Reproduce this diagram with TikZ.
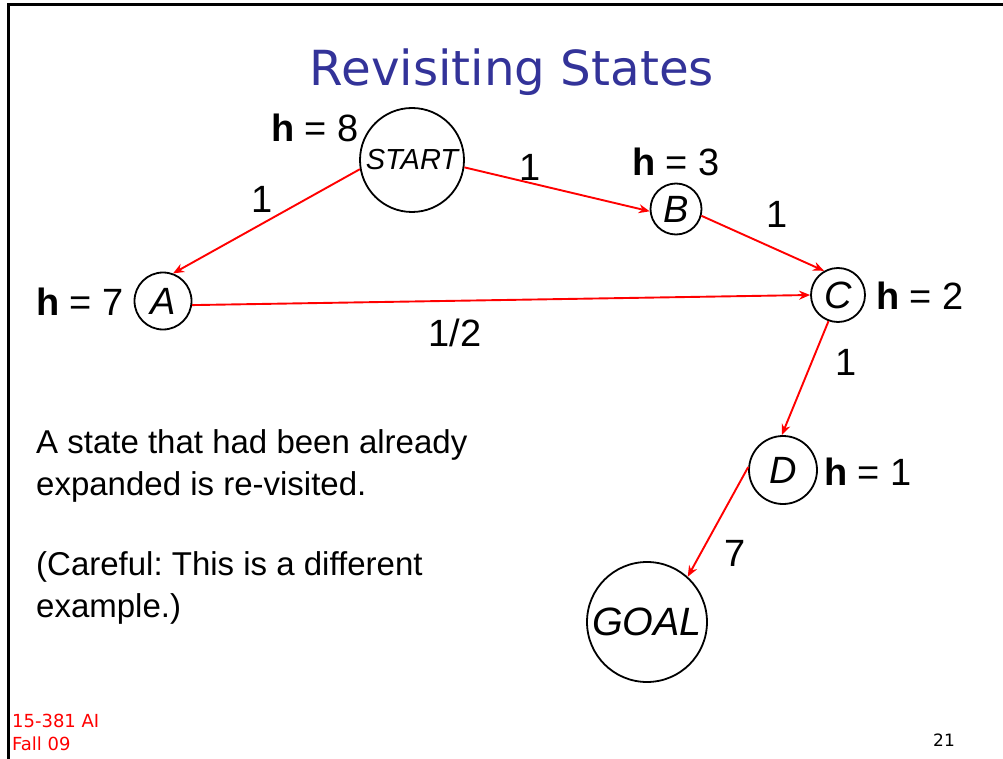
\documentclass[tikz,border=0pt]{standalone}
\usepackage{fontspec}
\setmainfont{Liberation Sans}
\newfontfamily\titlefont{DejaVu Sans}
\usetikzlibrary{arrows.meta}
\frenchspacing
\definecolor{titleblue}{HTML}{333399}
\tikzset{
  state/.style={circle,draw=black,line width=1.8pt,inner sep=0pt,font=\fontsize{38}{38}\selectfont\itshape},
  edge/.style={red,line width=1.9pt,-{Stealth[length=11pt,width=9pt]}},
  lbl/.style={font=\fontsize{38}{38}\selectfont,inner sep=0pt},
  body/.style={font=\fontsize{33}{42}\selectfont,align=left,anchor=north west,inner sep=0pt},
  foot/.style={red,align=left,anchor=north west,inner sep=0pt}
}
\begin{document}
\begin{tikzpicture}[x=1pt,y=-1pt]
\useasboundingbox (0,0) rectangle (1003,759);
\fill[white] (0,0) rectangle (1003,759);
\draw[line width=3pt] (1003,5) -- (8,5) -- (8,759);
\node[font=\titlefont\color{titleblue}] (title) at (512,72) {\resizebox{404pt}{!}{Revisiting States}};
% nodes
\node[state,minimum size=104pt,font=\fontsize{29}{29}\selectfont\itshape] (S) at (412,160) {START};
\node[state,minimum size=51pt] (B) at (676,209) {B};
\node[state,minimum size=57pt] (A) at (163,301) {A};
\node[state,minimum size=54pt] (C) at (838,295) {C};
\node[state,minimum size=68pt] (D) at (783,470) {D};
\node[state,minimum size=120pt,font=\fontsize{39.5}{40}\selectfont\itshape] (G) at (647,622) {GOAL};
% edges
\draw[edge] (S.190) -- (A.70);
\draw[edge] (S.-8) -- (B.185);
\draw[edge] (B.-15) -- (C.120);
\draw[edge] (A.-8) -- (C.180);
\draw[edge] (C.-110) -- (D.92);
\draw[edge] (D.175) -- (G.48);
% labels
\node[lbl] (h8) at (315,128) {\textbf{h} = 8};
\node[lbl] (e1) at (262,199) {1};
\node[lbl] (e2) at (530,167) {1};
\node[lbl] (h3) at (676,162) {\textbf{h} = 3};
\node[lbl] (e3) at (777,214) {1};
\node[lbl] (h7) at (80,302) {\textbf{h} = 7};
\node[lbl] (h2) at (920,296) {\textbf{h} = 2};
\node[lbl] (e4) at (455,333) {1/2};
\node[lbl] (e5) at (846,362) {1};
\node[lbl] (h1) at (868,472) {\textbf{h} = 1};
\node[lbl] (e6) at (735,553) {7};
\node[body] (t1) at (36,429) {A state that had been already\\expanded is re-visited.};
\node[body] (t2) at (36,551) {(Careful: This is a different\\example.)};
\node[foot,font=\titlefont\fontsize{18}{23}\selectfont] (f) at (12,714) {15-381 AI\\Fall 09};
\node[font=\titlefont\fontsize{17}{17}\selectfont,inner sep=0pt] (pg) at (944,740) {21};
\end{tikzpicture}
\end{document}
